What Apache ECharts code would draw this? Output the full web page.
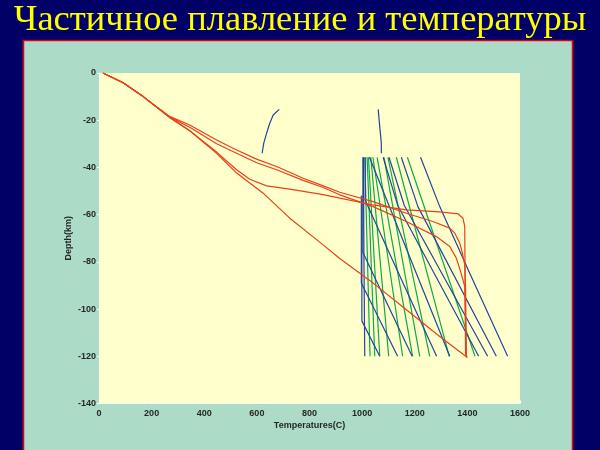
<!DOCTYPE html>
<html>
<head>
<meta charset="utf-8">
<script src="https://cdn.jsdelivr.net/npm/echarts@6/dist/echarts.min.js"></script>
<style>html,body{margin:0;padding:0;background:#000066;}#c{width:600px;height:450px;}</style>
</head>
<body>
<div id="c"></div>
<script>
// ---- data (Temperature °C, Depth km) ----
const titleText = "Частичное плавление и температуры";
const xName = "Temperatures(C)";
const yName = "Depth(km)";
const xTicks = [0, 200, 400, 600, 800, 1000, 1200, 1400, 1600];
const yTicks = [0, -20, -40, -60, -80, -100, -120, -140];

// red geotherms
const geo1 = [[15,0],[90,-4],[168,-10],[270,-18.5],[345,-22],[447,-28.4],[523,-32.6],[599,-36.5],[675,-39.6],[776,-44.6],[852,-47.8],[915,-50.5],[1042,-54.5],[1168,-59.4],[1269,-62.9],[1333,-65.7],[1352,-67.8],[1371,-72.1],[1381,-76.3],[1390,-81.3],[1393,-90.4],[1396,-120]];
const geo2 = [[15,0],[90,-4],[168,-10],[270,-18.8],[345,-23],[447,-30],[523,-34],[599,-38],[675,-41],[776,-45.5],[852,-48.5],[915,-51.6],[1042,-56.6],[1168,-62.9],[1282,-69.3],[1333,-73.5],[1358,-78.4],[1376,-84.8],[1390,-90.4],[1396,-120]];
const geo3 = [[15,0],[90,-4],[168,-10],[270,-19],[345,-24.5],[447,-33.5],[523,-41],[573,-45],[637,-47.8],[725,-49.2],[852,-51.5],[915,-53],[1042,-55.9],[1168,-58],[1295,-58.8],[1365,-59.7],[1383,-61.5],[1390,-65],[1393,-118.6],[1398,-120.5]];
const geo4 = [[15,0],[90,-4],[168,-10],[270,-19],[345,-24.5],[447,-34],[523,-42.4],[624,-50.9],[725,-61.5],[852,-72.8],[915,-78.6],[1042,-89],[1168,-100.3],[1295,-111.6],[1400,-120.5]];

// short blue segments
const blueShort1 = [[620,-34],[626,-29.8],[637,-25.5],[649,-21.3],[662,-17.8],[685,-15.4]];
const blueShort2 = [[1061,-15.4],[1067,-22.7],[1073,-29.8],[1073,-34]];

// blue lines
const blueLines = [
  [[1005,-35.7],[1007,-80],[1010,-120]],
  [[999,-52],[999,-105],[1067,-120]],
  [[997,-52],[997,-89],[1135,-120]],
  [[1003,-35.7],[1003,-76],[1190,-120]],
  [[1012,-35.7],[1012,-54],[1283,-120]],
  [[1028,-35.7],[1333,-120]],
  [[1080,-35.7],[1135,-56],[1443,-120]],
  [[1102,-35.7],[1160,-56],[1477,-120]],
  [[1149,-35.7],[1212,-56.6],[1510,-120]],
  [[1222,-35.7],[1295,-56.6],[1409,-84.8],[1553,-120]]
];
// green lines
const greenLines = [
  [[1010,-35.7],[1030,-120]],
  [[1019,-35.7],[1048,-120]],
  [[1024,-35.7],[1067,-120]],
  [[1033,-35.7],[1101,-120]],
  [[1041,-35.7],[1154,-120]],
  [[1057,-35.7],[1192,-120]],
  [[1083,-35.7],[1219,-120]],
  [[1098,-35.7],[1257,-120]],
  [[1130,-35.7],[1331,-120]],
  [[1172,-35.7],[1429,-120]]
];

const RED = '#e8401a', BLUE = '#2244a0', GREEN = '#10a848';
function lineSeries(data, color, w) {
  return { type: 'line', data: data, showSymbol: false, symbol: 'none', smooth: false,
    lineStyle: { color: color, width: w }, animation: false, silent: true };
}
const series = [];
greenLines.forEach(d => series.push(lineSeries(d, GREEN, 1.2)));
blueLines.forEach(d => series.push(lineSeries(d, BLUE, 1.2)));
series.push(lineSeries(blueShort1, BLUE, 1.2));
series.push(lineSeries(blueShort2, BLUE, 1.2));
[geo1, geo2, geo3, geo4].forEach(d => series.push(lineSeries(d, RED, 1.2)));

const labelStyle = { color: '#262626', fontSize: 9, fontWeight: 'bold', fontFamily: 'Liberation Sans' };
const chart = echarts.init(document.getElementById('c'), null, { renderer: 'canvas' });
chart.setOption({
  backgroundColor: '#000066',
  animation: false,
  title: { text: titleText, left: 'center', top: -3,
    textStyle: { color: '#ffff00', fontFamily: 'Liberation Serif', fontSize: 36.5, fontWeight: 'normal' } },
  graphic: [{ type: 'rect', z: -10, silent: true,
    shape: { x: 23.5, y: 40.5, width: 549, height: 420 },
    style: { fill: '#acdcc8', stroke: '#e00010', lineWidth: 1.5 } }],
  grid: { left: 99, right: 80, top: 73, bottom: 46.5, show: true, backgroundColor: '#ffffcc', borderWidth: 0 },
  xAxis: { type: 'value', min: 0, max: 1600, interval: 200,
    name: xName, nameLocation: 'middle', nameGap: 17.5, nameMoveOverlap: false, nameTextStyle: labelStyle,
    axisLine: { show: true, onZero: false, lineStyle: { color: '#ffffff', width: 1 } },
    axisTick: { show: true, inside: true, length: 3, lineStyle: { color: '#ffffff' } },
    axisLabel: Object.assign({ margin: 6, formatter: v => String(v) }, labelStyle),
    splitLine: { show: false } },
  yAxis: { type: 'value', min: -140, max: 0, interval: 20,
    name: yName, nameLocation: 'middle', nameGap: 25.5, nameRotate: 90, nameMoveOverlap: false, nameTextStyle: labelStyle,
    axisLine: { show: true, onZero: false, lineStyle: { color: '#ffffff', width: 1 } },
    axisTick: { show: true, inside: false, length: 2, lineStyle: { color: '#ffffff' } },
    axisLabel: Object.assign({ margin: 3 }, labelStyle),
    splitLine: { show: false } },
  series: series
});
</script>
</body>
</html>
